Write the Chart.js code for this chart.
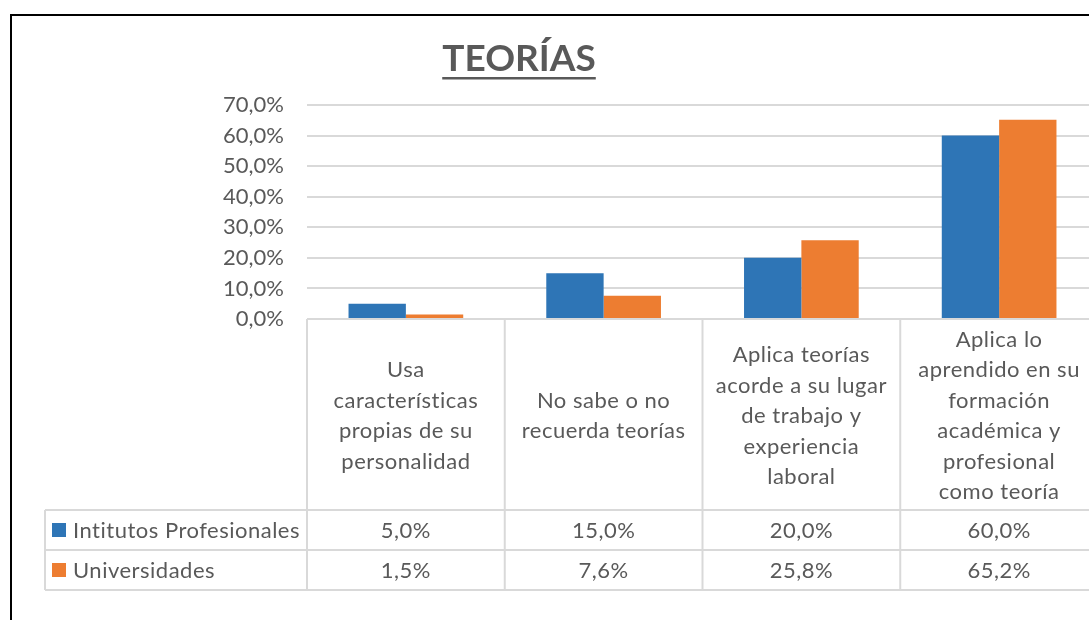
<!DOCTYPE html>
<html>
<head>
<meta charset="utf-8">
<script src="https://cdn.jsdelivr.net/npm/chart.js@4"></script>
<style>
  html, body { margin: 0; padding: 0; width: 1089px; height: 620px; overflow: hidden; background: #fff; }
  #frame { position: absolute; left: 10px; top: 14px; width: 1200px; height: 700px; border: 2px solid #000; }
  #wrap { position: absolute; left: 0; top: 0; width: 1120px; height: 640px; }
</style>
</head>
<body>
<div id="frame"></div>
<div id="wrap"><canvas id="c" width="1120" height="640"></canvas></div>
<script>
const chartTitle = "TEORÍAS";
const categories = [
  ["Usa", "características", "propias de su", "personalidad"],
  ["No sabe o no", "recuerda teorías"],
  ["Aplica teorías", "acorde a su lugar", "de trabajo y", "experiencia", "laboral"],
  ["Aplica lo", "aprendido en su", "formación", "académica y", "profesional", "como teoría"]
];
const seriesNames = ["Intitutos Profesionales", "Universidades"];
const institutos = [5.0, 15.0, 20.0, 60.0];
const universidades = [1.5, 7.6, 25.8, 65.2];
const seriesColors = ["#2E75B6", "#ED7D31"];
const yMin = 0, yMax = 70, yStep = 10;

const FONT = "Lato, 'Noto Sans', sans-serif";
const TXT = "#595959";
const LINE = "#d9d9d9";
const fmt = v => v.toFixed(1).replace('.', ',') + '%';

const tablePlugin = {
  id: 'dataTable',
  afterDraw(chart) {
    const ctx = chart.ctx;
    const x = chart.scales.x;
    const area = chart.chartArea;
    const n = categories.length;
    const cw = x.getPixelForValue(1) - x.getPixelForValue(0);
    const headerTop = area.bottom;
    const headerBottom = 510;
    const rowH = 40;
    const tableLeft = 45;
    const rightEdge = chart.width;
    const bounds = [];
    for (let i = 0; i <= n; i++) bounds.push(x.getPixelForValue(0) - cw / 2 + i * cw);

    ctx.save();
    ctx.strokeStyle = LINE;
    ctx.lineWidth = 2;
    const hl = [headerBottom, headerBottom + rowH, headerBottom + 2 * rowH];
    hl.forEach(y => {
      ctx.beginPath(); ctx.moveTo(tableLeft, y); ctx.lineTo(rightEdge, y); ctx.stroke();
    });
    bounds.forEach(bx => {
      ctx.beginPath(); ctx.moveTo(bx, headerTop); ctx.lineTo(bx, headerBottom + 2 * rowH); ctx.stroke();
    });
    ctx.beginPath(); ctx.moveTo(tableLeft, headerBottom); ctx.lineTo(tableLeft, headerBottom + 2 * rowH); ctx.stroke();

    ctx.fillStyle = TXT;
    ctx.font = "22px " + FONT;
    ctx.letterSpacing = "0.5px";
    ctx.textAlign = 'center';
    ctx.textBaseline = 'middle';
    const lh = 30.5;
    const midY = 416;
    categories.forEach((lines, i) => {
      const cx = x.getPixelForValue(i);
      const y0 = midY - (lines.length - 1) * lh / 2;
      lines.forEach((t, k) => ctx.fillText(t, cx, y0 + k * lh));
    });

    const data = [institutos, universidades];
    data.forEach((arr, r) => {
      const cy = headerBottom + r * rowH + rowH / 2 + 1;
      ctx.fillStyle = seriesColors[r];
      ctx.fillRect(52, cy - 8, 14, 14);
      ctx.fillStyle = TXT;
      ctx.textAlign = 'left';
      ctx.fillText(seriesNames[r], 73, cy);
      ctx.textAlign = 'center';
      arr.forEach((v, i) => ctx.fillText(fmt(v), x.getPixelForValue(i), cy));
    });

    ctx.letterSpacing = "0px";
    ctx.font = "bold 37px " + FONT;
    ctx.textAlign = 'center';
    ctx.textBaseline = 'alphabetic';
    const tx = 519, ty = 71;
    ctx.fillText(chartTitle, tx, ty);
    const w = ctx.measureText(chartTitle).width;
    ctx.fillRect(tx - w / 2, 77, w, 2.5);
    ctx.restore();
  }
};

new Chart(document.getElementById('c'), {
  type: 'bar',
  data: {
    labels: categories,
    datasets: [
      { label: seriesNames[0], data: institutos, backgroundColor: seriesColors[0] },
      { label: seriesNames[1], data: universidades, backgroundColor: seriesColors[1] }
    ]
  },
  options: {
    responsive: false,
    animation: false,
    events: [],
    layout: { padding: { top: 105, right: 22, bottom: 321, left: 0 } },
    datasets: { bar: { barPercentage: 1, categoryPercentage: 0.58 } },
    plugins: { legend: { display: false }, tooltip: { enabled: false }, title: { display: false } },
    scales: {
      x: { display: false },
      y: {
        min: yMin, max: yMax,
        afterFit(s) { s.width = 307; },
        ticks: { stepSize: yStep, padding: 23, color: TXT, font: { family: FONT, size: 22 }, callback: v => fmt(v) },
        grid: { color: LINE, lineWidth: 2, drawTicks: false },
        border: { display: false }
      }
    }
  },
  plugins: [tablePlugin]
});
</script>
</body>
</html>
